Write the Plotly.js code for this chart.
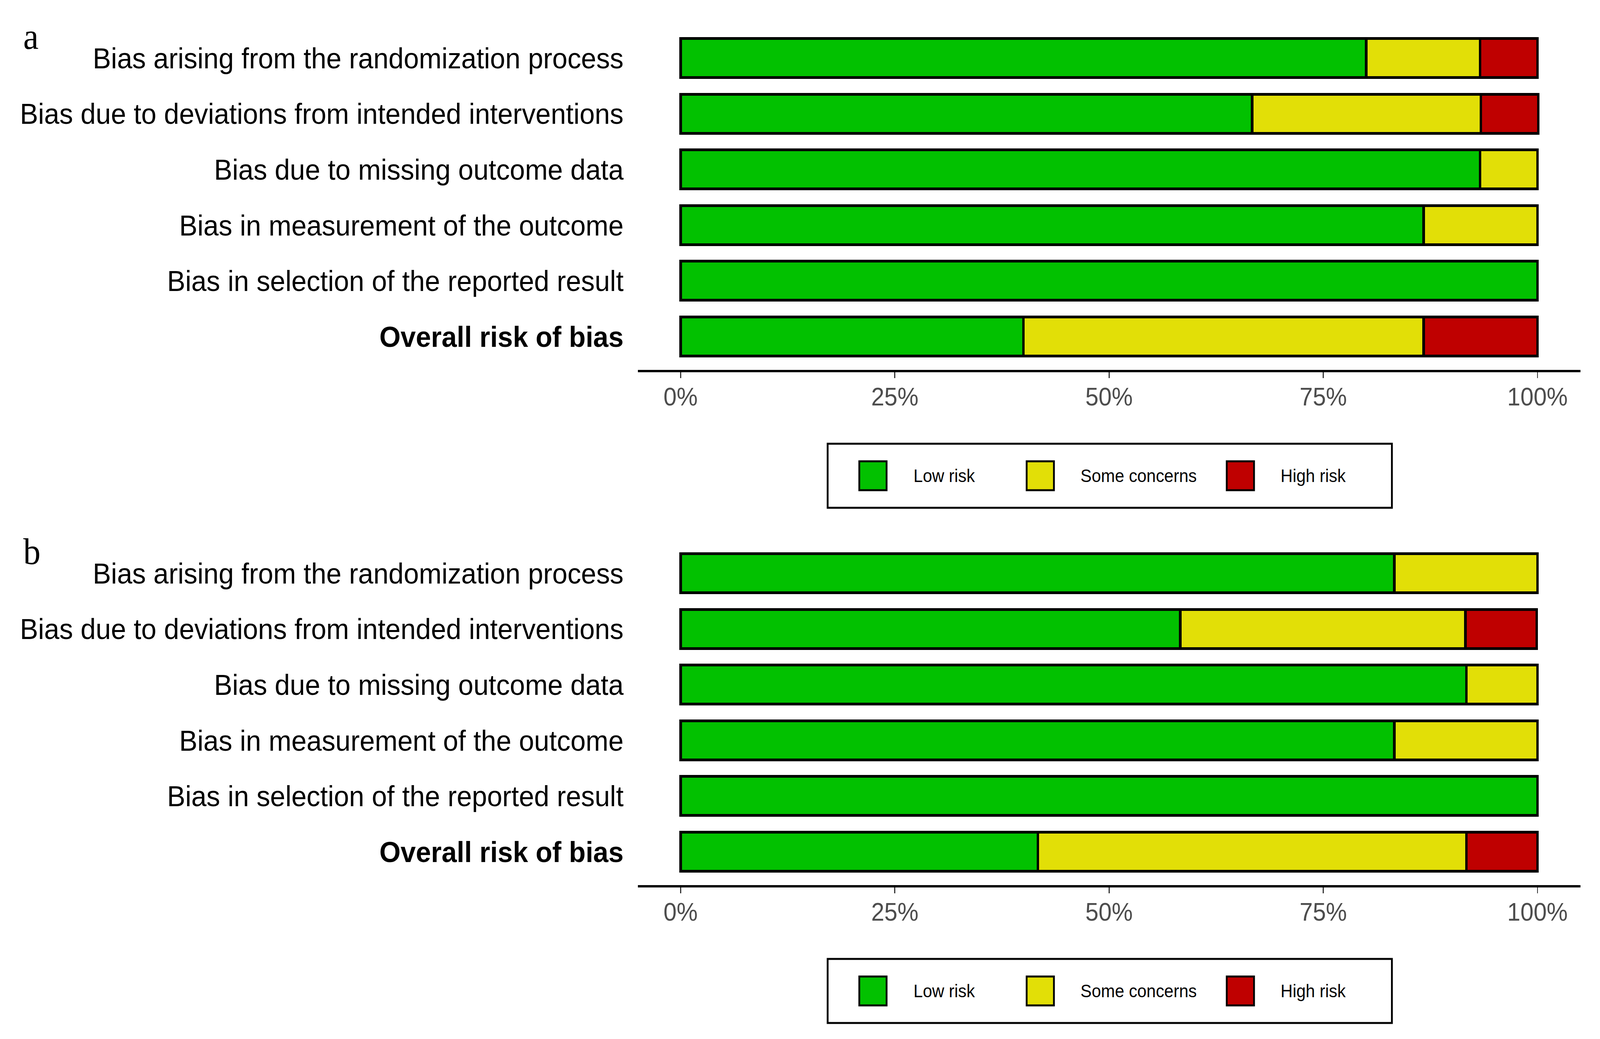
<!DOCTYPE html>
<html>
<head>
<meta charset="utf-8">
<script src="https://cdn.plot.ly/plotly-3.0.1.min.js"></script>
<style>html,body{margin:0;padding:0;background:#fff;overflow:hidden;}#chart{position:absolute;left:0;top:0;width:4398px;height:2660px;transform-origin:0 0;}</style>
</head>
<body>
<div id="chart"></div>
<script>
// ---- data ----
const domains = [
  "Bias arising from the randomization process",
  "Bias due to deviations from intended interventions",
  "Bias due to missing outcome data",
  "Bias in measurement of the outcome",
  "Bias in selection of the reported result",
  "Overall risk of bias"
];
const judgements = ["Low risk", "Some concerns", "High risk"];
const judgementColors = ["#02C100", "#E2DF07", "#BF0000"];
const panelLabels = ["a", "b"];

// panel a (percent of studies)
const lowA  = [80.0, 66.7, 93.3, 86.7, 100.0, 40.0];
const someA = [13.3, 26.7,  6.7, 13.3,   0.0, 46.7];
const highA = [ 6.7,  6.7,  0.0,  0.0,   0.0, 13.3];
// panel b (percent of studies)
const lowB  = [83.3, 58.3, 91.7, 83.3, 100.0, 41.7];
const someB = [16.7, 33.3,  8.3, 16.7,   0.0, 50.0];
const highB = [ 0.0,  8.3,  0.0,  0.0,   0.0,  8.3];

const xTicks = [0, 25, 50, 75, 100];

// ---- sizing: chart is drawn at 4398x2660 and fitted to the viewport ----
const W = 4398, H = 2660;
const el = document.getElementById("chart");
const vw = window.innerWidth || W, vh = window.innerHeight || H;
const sx = Math.min(1, vw / W), sy = Math.min(1, vh / H);
if (sx !== 1 || sy !== 1) el.style.transform = "scale(" + sx + "," + sy + ")";

const px = v => v / W;
const py = v => 1 - v / H;

const panels = [
  {vals: [lowA, someA, highA], top: 63, bottom: 947, ax: ""},
  {vals: [lowB, someB, highB], top: 1382, bottom: 2266, ax: "2"}
];

const traces = [];
panels.forEach((p, pi) => {
  judgements.forEach((j, ji) => {
    traces.push({
      type: "bar",
      orientation: "h",
      name: j,
      x: p.vals[ji],
      y: domains,
      xaxis: "x" + p.ax,
      yaxis: "y" + p.ax,
      marker: {color: judgementColors[ji], line: {color: "#000000", width: 7}},
      showlegend: false,
      hoverinfo: "x+y+name"
    });
  });
});

const ticktext = domains.map((d, i) => i === domains.length - 1 ? "<b>" + d + "</b>" : d);

function xAxis(anchor) {
  return {
    domain: [px(1753), px(4344)],
    anchor: anchor,
    range: [-5, 105],
    tickvals: xTicks,
    ticktext: xTicks.map(v => v + "%"),
    ticks: "outside",
    ticklen: 15,
    tickwidth: 3,
    tickcolor: "#333333",
    ticklabelstandoff: -8,
    showline: true,
    linecolor: "#000000",
    linewidth: 6,
    showgrid: false,
    zeroline: false,
    tickfont: {family: "Liberation Sans, Arial, sans-serif", size: 65, color: "#4D4D4D"},
    fixedrange: true
  };
}
function yAxis(anchor, p) {
  return {
    domain: [py(p.bottom), py(p.top)],
    anchor: anchor,
    type: "category",
    categoryorder: "array",
    categoryarray: domains.slice().reverse(),
    range: [-0.6, domains.length - 0.4],
    tickvals: domains,
    ticktext: ticktext,
    ticks: "",
    showline: false,
    showgrid: false,
    zeroline: false,
    ticklabelstandoff: 38,
    tickfont: {family: "Liberation Sans, Arial, sans-serif", size: 75, color: "#000000"},
    fixedrange: true
  };
}

const shapes = [];
const annotations = [];

// custom legends below each panel
panels.forEach((p, pi) => {
  const off = p.top - panels[0].top;
  const boxTop = 1136 + off, boxBot = 1300 + off;
  shapes.push({type: "rect", xref: "paper", yref: "paper",
    x0: px(2275), x1: px(3826), y0: py(boxBot), y1: py(boxTop),
    line: {color: "#000000", width: 5}, fillcolor: "rgba(0,0,0,0)"});
  const keyX = [2362, 2822, 3372];
  const labX = [2509, 2968, 3518];
  judgements.forEach((j, ji) => {
    shapes.push({type: "rect", xref: "paper", yref: "paper",
      x0: px(keyX[ji]), x1: px(keyX[ji] + 75), y0: py(1255 + off), y1: py(1181 + off),
      line: {color: "#000000", width: 5}, fillcolor: judgementColors[ji]});
    annotations.push({xref: "paper", yref: "paper", x: px(labX[ji]), y: py(1218 + off),
      xanchor: "left", yanchor: "middle", showarrow: false, text: j,
      font: {family: "Liberation Sans, Arial, sans-serif", size: 46, color: "#000000"}});
  });
  annotations.push({xref: "paper", yref: "paper", x: px(62), y: py(p.top + 30),
    xanchor: "left", yanchor: "middle", showarrow: false, text: panelLabels[pi],
    font: {family: "Liberation Serif, Times New Roman, serif", size: 95, color: "#000000"}});
});

const layout = {
  width: W, height: H,
  margin: {l: 0, r: 0, t: 0, b: 0},
  paper_bgcolor: "#ffffff",
  plot_bgcolor: "#ffffff",
  barmode: "stack",
  bargap: 0.3,
  showlegend: false,
  xaxis: xAxis("y"),
  yaxis: yAxis("x", panels[0]),
  xaxis2: xAxis("y2"),
  yaxis2: yAxis("x2", panels[1]),
  shapes: shapes,
  annotations: annotations
};

Plotly.newPlot("chart", traces, layout, {displayModeBar: false, staticPlot: true});
</script>
</body>
</html>
